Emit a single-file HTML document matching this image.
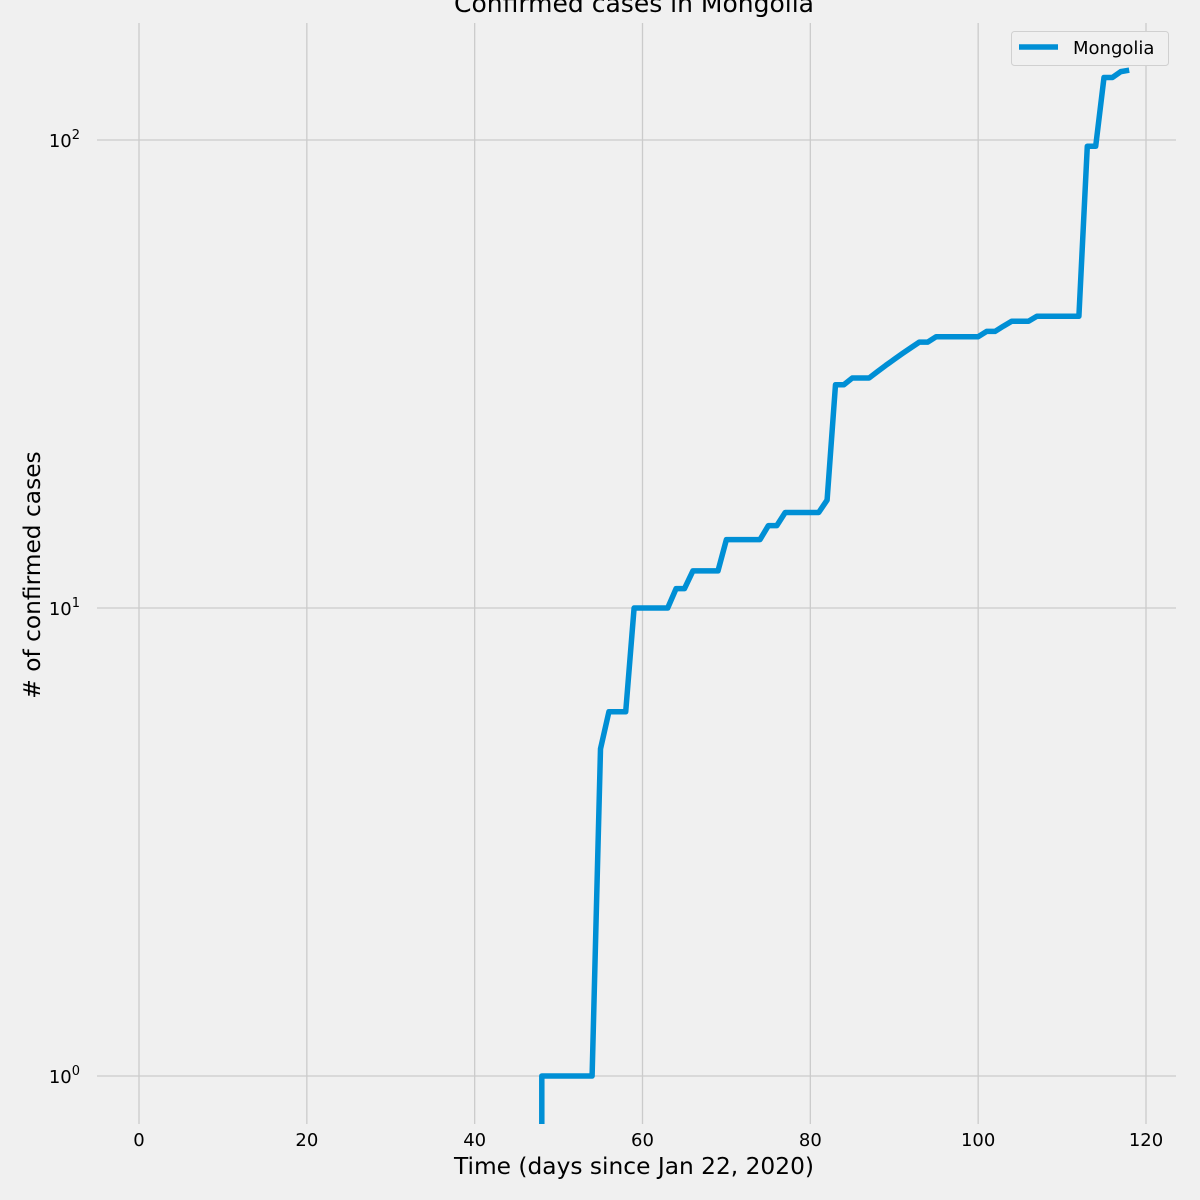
<!DOCTYPE html>
<html><head><meta charset="utf-8"><style>
html,body{margin:0;padding:0;background:#f0f0f0;}
svg{display:block;font-family:"DejaVu Sans","Liberation Sans",sans-serif;}
</style></head><body>
<svg id="chart" width="1200" height="1200" viewBox="0 0 1200 1200">
<rect width="1200" height="1200" fill="#f0f0f0"/>
<g id="grid"></g>
<g id="ticks"></g>
<path id="line" fill="none" stroke="#008fd5" stroke-width="5.5" stroke-linejoin="round"/>
<text x="634" y="12" font-size="25" text-anchor="middle" fill="#000">Confirmed cases in Mongolia</text>
<text x="634" y="1174" font-size="23.3" text-anchor="middle" fill="#000">Time (days since Jan 22, 2020)</text>
<text transform="translate(40,575) rotate(-90)" font-size="23.3" text-anchor="middle" fill="#000">&#35; of confirmed cases</text>
<g>
<rect x="1011.5" y="31.5" width="157" height="34" rx="3" fill="#f0f0f0" stroke="#d0d0d0"/>
<line x1="1019" y1="47" x2="1058" y2="47" stroke="#008fd5" stroke-width="5.5"/>
<text x="1073" y="54" font-size="18" fill="#000">Mongolia</text>
</g>
</svg>
<script>
const days = [];
for (let d = 47; d <= 118; d++) days.push(d);
const cases = [0,1,1,1,1,1,1,1,5,6,6,6,10,10,10,10,10,11,11,12,12,12,12,14,14,14,14,14,15,15,16,16,16,16,16,17,30,30,31,31,31,32,33,34,35,36,37,37,38,38,38,38,38,38,39,39,40,41,41,41,42,42,42,42,42,42,97,97,136,136,140,141];
const xTicks = [0,20,40,60,80,100,120];
const yTicks = [0,1,2];
const L=97,R=1176,T=23,B=1124;
const X = d => 139 + d*(1146-139)/120;
const Y = v => 1076 - Math.log10(v)*468;
const ns="http://www.w3.org/2000/svg";
const grid=document.getElementById('grid'), ticks=document.getElementById('ticks');
xTicks.forEach(t=>{
  const l=document.createElementNS(ns,'line');
  l.setAttribute('x1',X(t));l.setAttribute('x2',X(t));l.setAttribute('y1',T);l.setAttribute('y2',B);
  l.setAttribute('stroke','#cbcbcb');l.setAttribute('stroke-width','1.3');
  
  
  grid.appendChild(l);
  const tx=document.createElementNS(ns,'text');
  tx.setAttribute('x',X(t));tx.setAttribute('y',1146);tx.setAttribute('font-size','18');tx.setAttribute('text-anchor','middle');
  tx.textContent=t;
  
  
  ticks.appendChild(tx);
});
yTicks.forEach(e=>{
  const y=Y(Math.pow(10,e));
  const l=document.createElementNS(ns,'line');
  l.setAttribute('x1',L);l.setAttribute('x2',R);l.setAttribute('y1',y);l.setAttribute('y2',y);
  l.setAttribute('stroke','#cbcbcb');l.setAttribute('stroke-width','1.3');
  
  
  grid.appendChild(l);
  const tx=document.createElementNS(ns,'text');
  tx.setAttribute('x',80);tx.setAttribute('y',y+7);tx.setAttribute('font-size','18');tx.setAttribute('text-anchor','end');
  tx.innerHTML='10<tspan dy="-8" font-size="13">'+e+'</tspan>';
  
  
  ticks.appendChild(tx);
});
let d='';
days.forEach((dy,i)=>{
  const v=cases[i];
  const y = v>0 ? Y(v) : B;
  d += (i===0?'M':'L')+X(dy).toFixed(1)+','+y.toFixed(1)+' ';
});
if(cases[0]===0){ d = 'M'+X(days[1]).toFixed(1)+','+B+' '+d.split(' ').slice(1).join(' '); }
document.getElementById('line').setAttribute('d',d);
</script>
</body></html>
